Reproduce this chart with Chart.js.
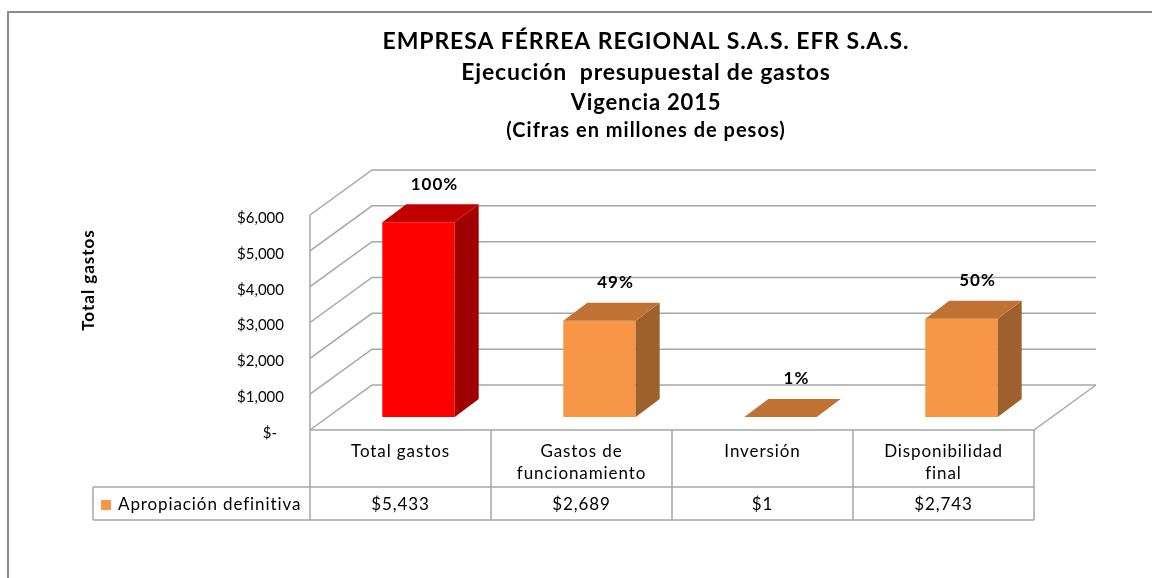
<!DOCTYPE html>
<html lang="es">
<head>
<meta charset="UTF-8">
<title>Ejecución presupuestal de gastos 2015</title>
<script src="https://cdn.jsdelivr.net/npm/chart.js"></script>
<style>
  html, body { margin: 0; padding: 0; background: #fff; }
  canvas { display: block; }
</style>
</head>
<body>
<canvas id="chart" width="1152" height="578"></canvas>
<script>
// datos del gráfico
const titleLines = [
    'EMPRESA FÉRREA REGIONAL S.A.S. EFR S.A.S.',
    'Ejecución  presupuestal de gastos',
    'Vigencia 2015',
    '(Cifras en millones de pesos)'
];
const categories = [['Total gastos'], ['Gastos de', 'funcionamiento'], ['Inversión'], ['Disponibilidad', 'final']];
const apropiacion = [5433, 2689, 1, 2743];
const percentLabels = ['100%', '49%', '1%', '50%'];
const yTicks = [0, 1000, 2000, 3000, 4000, 5000, 6000];
const seriesName = 'Apropiación definitiva';
const axisTitle = 'Total gastos';

const FONT = 'Lato, "Open Sans", sans-serif';
const GRID = '#a6a6a6';
const FRONT = { dx: -18, dy: 13 };   // plano frontal respecto al plano de las barras
const BACK = { dx: 44, dy: -32 };    // pared del fondo
const DEPTH = { dx: 24, dy: -18 };   // profundidad de cada barra

const frontColors = ['#ff0000', '#f79646', '#f79646', '#f79646'];
const topColors = ['#c00000', '#bf7233', '#bf7233', '#bf7233'];
const sideColors = ['#a00000', '#9e602d', '#9e602d', '#9e602d'];

function money(v) {
    return v === 0 ? '$-' : '$' + v.toLocaleString('en-US');
}

function line(ctx, pts, color, width) {
    ctx.beginPath();
    ctx.moveTo(pts[0][0], pts[0][1]);
    for (let i = 1; i < pts.length; i++) ctx.lineTo(pts[i][0], pts[i][1]);
    ctx.strokeStyle = color;
    ctx.lineWidth = width;
    ctx.stroke();
}

function poly(ctx, pts, color) {
    ctx.beginPath();
    ctx.moveTo(pts[0][0], pts[0][1]);
    for (let i = 1; i < pts.length; i++) ctx.lineTo(pts[i][0], pts[i][1]);
    ctx.closePath();
    ctx.fillStyle = color;
    ctx.fill();
}

const excel3d = {
    id: 'excel3d',
    beforeDatasetsDraw(chart) {
        const { ctx, chartArea: a, scales: { x, y } } = chart;
        ctx.save();

        // marco exterior
        line(ctx, [[8, 578], [8, 12], [1152, 12]], '#8c8c8c', 2);

        // títulos
        ctx.fillStyle = '#000';
        ctx.textAlign = 'center';
        ctx.textBaseline = 'middle';
        const tFonts = ['bold 23px ', 'bold 23px ', 'bold 22px ', 'bold 20px '];
        const tSpacing = ['0.9px', '0.8px', '0.8px', '1px'];
        const tY = [42, 73, 103, 131];
        titleLines.forEach((t, i) => {
            ctx.font = tFonts[i] + FONT;
            ctx.letterSpacing = tSpacing[i];
            ctx.fillText(t, 646, tY[i]);
        });

        // título del eje
        ctx.save();
        ctx.translate(89, 280);
        ctx.rotate(-Math.PI / 2);
        ctx.font = 'bold 17px ' + FONT;
        ctx.letterSpacing = '1px';
        ctx.fillText(axisTitle, 0, 0);
        ctx.restore();

        const fl = a.left + FRONT.dx, bl = a.left + BACK.dx;
        const fr = a.right + FRONT.dx, br = a.right + BACK.dx;

        // líneas de división y pared lateral
        yTicks.forEach(v => {
            const py = y.getPixelForValue(v);
            line(ctx, [[fl, py + FRONT.dy], [bl, py + BACK.dy], [br, py + BACK.dy]], GRID, 1.5);
        });
        const y0 = y.getPixelForValue(0);
        line(ctx, [[fr, y0 + FRONT.dy], [br, y0 + BACK.dy]], GRID, 1.5);

        // etiquetas del eje
        ctx.font = '15px ' + FONT;
        ctx.letterSpacing = '0px';
        ctx.textAlign = 'right';
        yTicks.forEach(v => {
            const py = y.getPixelForValue(v) + FRONT.dy + 3;
            ctx.fillText(money(v), v === 0 ? 277 : 284, py);
        });

        // tabla de datos
        const top = y0 + FRONT.dy, mid = 487, bot = 520;
        line(ctx, [[fl, a.top + FRONT.dy], [fl, bot]], GRID, 1.5);
        line(ctx, [[fl, top], [fr, top]], GRID, 1.5);
        line(ctx, [[93, mid], [fr, mid]], GRID, 1.5);
        line(ctx, [[93, bot], [fr, bot]], GRID, 1.5);
        line(ctx, [[93, mid], [93, bot]], GRID, 1.5);
        const step = (a.right - a.left) / categories.length;
        for (let i = 1; i <= categories.length; i++) {
            const cx = fl + step * i;
            line(ctx, [[cx, top], [cx, bot]], GRID, 1.5);
        }
        ctx.textAlign = 'center';
        ctx.font = '17px ' + FONT;
        ctx.letterSpacing = '0.9px';
        categories.forEach((lines, i) => {
            const cx = x.getPixelForValue(i) + FRONT.dx;
            lines.forEach((t, j) => ctx.fillText(t, cx, 452 + j * 22));
            ctx.fillText(money(apropiacion[i]), cx, 505);
        });
        // leyenda
        ctx.fillStyle = frontColors[1];
        ctx.fillRect(101, 500, 10, 10);
        ctx.fillStyle = '#000';
        ctx.textAlign = 'left';
        ctx.fillText(seriesName, 118, 505);

        ctx.restore();
    },
    afterDatasetsDraw(chart) {
        const { ctx } = chart;
        ctx.save();
        chart.getDatasetMeta(0).data.forEach((bar, i) => {
            const l = bar.x - bar.width / 2, r = bar.x + bar.width / 2;
            const t = bar.y, b = bar.base;
            poly(ctx, [[r, t], [r + DEPTH.dx, t + DEPTH.dy], [r + DEPTH.dx, b + DEPTH.dy], [r, b]], sideColors[i]);
            poly(ctx, [[l, t], [r, t], [r + DEPTH.dx, t + DEPTH.dy], [l + DEPTH.dx, t + DEPTH.dy]], topColors[i]);
            ctx.fillStyle = '#000';
            ctx.font = 'bold 17px ' + FONT;
            ctx.letterSpacing = '1px';
            ctx.textAlign = 'center';
            ctx.textBaseline = 'middle';
            ctx.fillText(percentLabels[i], bar.x + 16, t + DEPTH.dy - 20);
        });
        ctx.restore();
    }
};

new Chart(document.getElementById('chart'), {
    type: 'bar',
    data: {
        labels: categories,
        datasets: [{
            label: seriesName,
            data: apropiacion,
            backgroundColor: frontColors,
            borderWidth: 0,
            categoryPercentage: 1,
            barPercentage: 0.4
        }]
    },
    options: {
        responsive: false,
        animation: false,
        layout: { padding: { left: 328, right: 100, top: 202, bottom: 161 } },
        plugins: { legend: { display: false }, tooltip: { enabled: false } },
        scales: {
            x: { display: false },
            y: { display: false, min: 0, max: 6000 }
        }
    },
    plugins: [excel3d]
});
</script>
</body>
</html>
